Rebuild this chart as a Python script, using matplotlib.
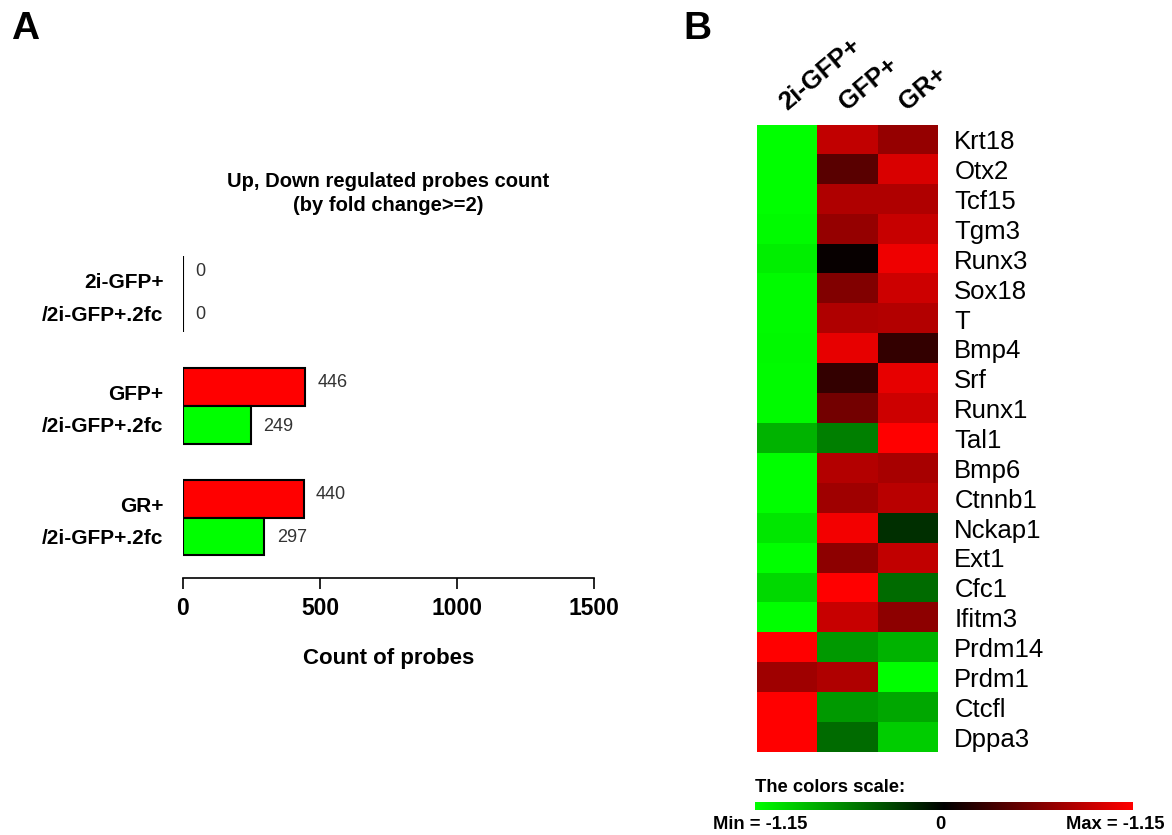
import numpy as np
import matplotlib
matplotlib.use('Agg')
import matplotlib.pyplot as plt
from matplotlib.colors import LinearSegmentedColormap

plt.rcParams['font.family'] = ['Liberation Sans', 'DejaVu Sans']

# Panel A data
groups = ['2i-GFP+', 'GFP+', 'GR+']
up_counts = [0, 446, 440]
down_counts = [0, 249, 297]
sub_label = '/2i-GFP+.2fc'

# Panel B data
samples = ['2i-GFP+', 'GFP+', 'GR+']
genes = ['Krt18', 'Otx2', 'Tcf15', 'Tgm3', 'Runx3', 'Sox18', 'T', 'Bmp4', 'Srf',
         'Runx1', 'Tal1', 'Bmp6', 'Ctnnb1', 'Nckap1', 'Ext1', 'Cfc1', 'Ifitm3',
         'Prdm14', 'Prdm1', 'Ctcfl', 'Dppa3']
col_2i = [-1.0, -1.0, -1.0, -0.98, -0.93, -0.98, -0.98, -0.97, -0.98, -0.98, -0.7,
          -1.0, -1.0, -0.9, -1.0, -0.85, -1.0, 1.0, 0.62, 1.0, 1.0]
col_gfp = [0.75, 0.35, 0.68, 0.58, 0.03, 0.5, 0.68, 0.9, 0.2, 0.45, -0.5,
           0.7, 0.62, 0.95, 0.55, 1.0, 0.78, -0.6, 0.68, -0.6, -0.42]
col_gr = [0.58, 0.85, 0.68, 0.78, 0.93, 0.8, 0.7, 0.2, 0.9, 0.8, 1.0,
          0.65, 0.72, -0.18, 0.75, -0.42, 0.55, -0.7, -1.0, -0.65, -0.8]

fig = plt.figure(figsize=(11.72, 8.35), dpi=100)

# ---- Panel A: bar chart
ax = fig.add_axes([0.156, 0.308, 0.351, 0.393])
y = np.arange(len(groups))
h = 0.34
ax.barh(y - h / 2, up_counts, height=h, color='#ff0000', edgecolor='black', linewidth=1.5)
ax.barh(y + h / 2, down_counts, height=h, color='#00ff00', edgecolor='black', linewidth=1.5)
for i in range(len(groups)):
    ax.annotate(str(up_counts[i]), (up_counts[i], y[i] - h / 2), xytext=(9, 3),
                textcoords='offset points', va='center', fontsize=13, color='#333333')
    ax.annotate(str(down_counts[i]), (down_counts[i], y[i] + h / 2), xytext=(9, -1),
                textcoords='offset points', va='center', fontsize=13, color='#333333')
ax.set_xlim(0, 1500)
ax.set_ylim(2.54, -0.4)
ticks_y = []
ticks_lab = []
for i, g in enumerate(groups):
    ticks_y += [y[i] - h / 2 + 0.05, y[i] + h / 2]
    ticks_lab += [g, sub_label]
ax.set_yticks(ticks_y)
ax.set_yticklabels(ticks_lab, fontsize=15, fontweight='bold')
ax.tick_params(axis='y', length=0, pad=14)
ax.set_xticks([0, 500, 1000, 1500])
ax.set_xticklabels(['0', '500', '1000', '1500'], fontsize=16.5, fontweight='bold')
ax.tick_params(axis='x', length=8, width=1.2, pad=6)
for s in ['top', 'right', 'left']:
    ax.spines[s].set_visible(False)
ax.spines['bottom'].set_linewidth(1.2)
ax.set_xlabel('Count of probes', fontsize=16, fontweight='bold', labelpad=20)
ax.set_title('Up, Down regulated probes count\n(by fold change>=2)', fontsize=14.5,
             fontweight='bold', pad=28, linespacing=1.3)

fig.text(0.009, 0.965, 'A', fontsize=28, fontweight='bold', va='center')
fig.text(0.583, 0.965, 'B', fontsize=28, fontweight='bold', va='center')

# ---- Panel B: heatmap
cmap = LinearSegmentedColormap.from_list('gbr', ['#00ff00', '#000000', '#ff0000'])
data = np.array([col_2i, col_gfp, col_gr]).T
hx = fig.add_axes([0.646, 0.0994, 0.154, 0.751])
hx.imshow(data, cmap=cmap, vmin=-1, vmax=1, aspect='auto', interpolation='nearest')
hx.set_yticks(np.arange(len(genes)))
hx.set_yticklabels(genes, fontsize=18.5)
hx.yaxis.tick_right()
hx.tick_params(axis='y', length=0, pad=12)
hx.set_xticks([])
for s in hx.spines.values():
    s.set_visible(False)
for j, name in enumerate(samples):
    hx.text(j + 0.05, -0.85, name, rotation=40, fontsize=18.5, fontweight='bold',
            ha='left', va='bottom', rotation_mode='anchor')

# colour scale
fig.text(0.644, 0.0563, 'The colors scale:', fontsize=13.2, fontweight='bold', va='center')
cx = fig.add_axes([0.644, 0.0305, 0.3225, 0.0096])
cx.imshow(np.linspace(-1, 1, 256)[None, :], cmap=cmap, aspect='auto')
cx.axis('off')
fig.text(0.608, 0.012, 'Min = -1.15', fontsize=13.2, fontweight='bold', va='center')
fig.text(0.802, 0.012, '0', fontsize=13.2, fontweight='bold', va='center', ha='center')
fig.text(0.994, 0.012, 'Max = -1.15', fontsize=13.2, fontweight='bold', va='center', ha='right')

plt.savefig('out.png', dpi=100)
